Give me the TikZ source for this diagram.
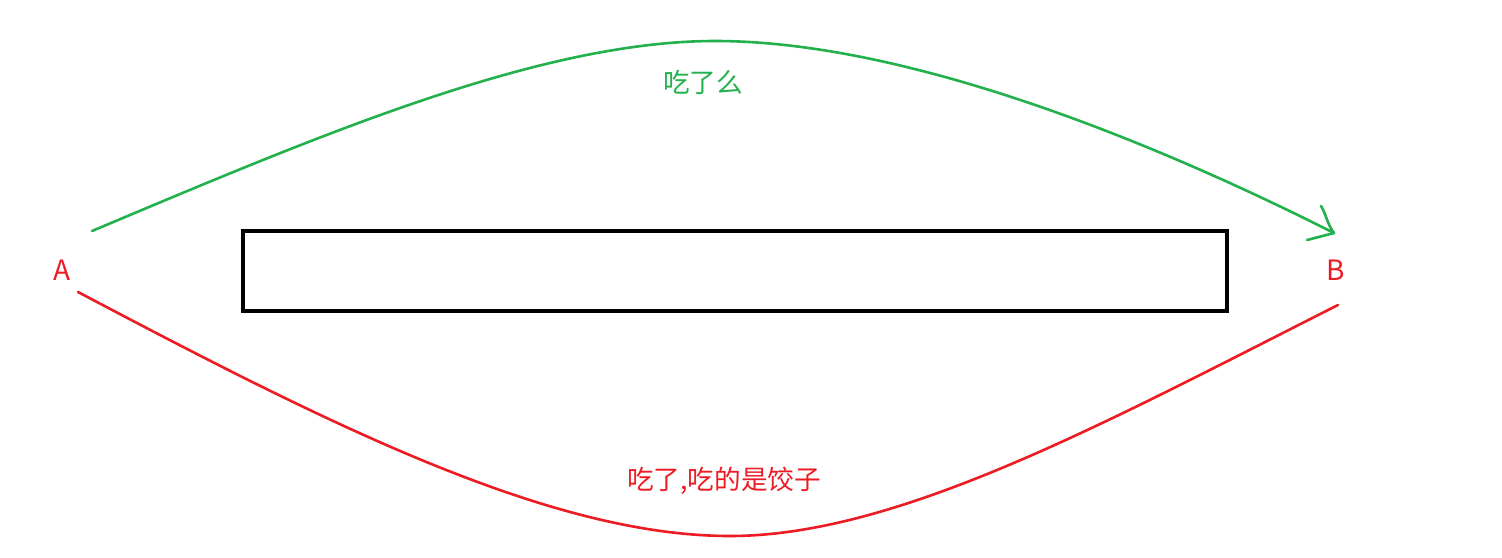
\documentclass[tikz,border=0pt]{standalone}
\usepackage{fontspec}
\setmainfont{Noto Sans CJK SC}
\begin{document}
\begin{tikzpicture}[x=0.5pt,y=-0.5pt,
  lbl/.style={inner sep=0pt,font=\fontsize{13.3}{15}\selectfont},
  endlbl/.style={inner sep=0pt,text=pred,font=\fontsize{14}{16}\selectfont},
  gline/.style={draw=pgreen,line width=1.3pt,line cap=round},
  rline/.style={draw=pred,line width=1.3pt,line cap=round}]
\definecolor{pgreen}{HTML}{22B14C}
\definecolor{pred}{HTML}{ED1C24}
\useasboundingbox[fill=white] (0,0) rectangle (1502,557);
\node[endlbl] (A) at (62,270) {A};
\node[endlbl] (B) at (1336,270) {B};
\node[draw=black,line width=1.6pt,minimum width=984pt*0.5,minimum height=80pt*0.5,inner sep=0pt] (box) at (735,271) {};
\coordinate (gs) at (92,231);
\coordinate (gp) at (715,41);
\coordinate (ge) at (1334,233);
\coordinate (rs) at (78,292);
\coordinate (rp) at (730,536);
\coordinate (re) at (1338,305);
\coordinate (h1) at (1321,206);
\coordinate (h2) at (1307,240);
\draw[gline] (gs) .. controls (320,135) and (540,41) .. (gp) .. controls (900,41) and (1140,135) .. (ge);
\draw[gline] (h1) .. controls (1326,214) and (1328,226) .. (ge);
\draw[gline] (h2) -- (ge);
\draw[rline] (rs) .. controls (330,425) and (550,536) .. (rp) .. controls (900,536) and (1110,420) .. (re);
\node[lbl,text=pgreen] (q) at (703,82) {吃了么};
\node[lbl,text=pred] (ans) at (724,481) {吃了,吃的是饺子};
\end{tikzpicture}
\end{document}
